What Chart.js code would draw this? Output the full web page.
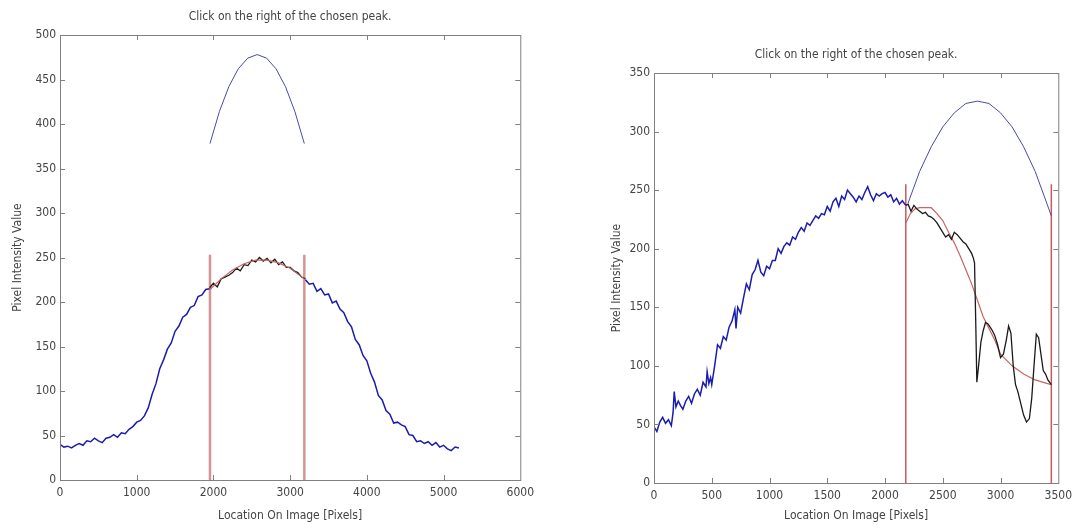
<!DOCTYPE html>
<html lang="en">
<head>
  <meta charset="UTF-8" />
  <title>Click on the right of the chosen peak.</title>
  <script src="https://cdn.jsdelivr.net/npm/chart.js"></script>
  <style>
    body {
      margin: 0;
      background: #fff;
      width: 1078px;
      height: 531px;
      position: relative;
      overflow: hidden;
    }
    canvas {
      position: absolute;
      top: 0;
    }
    #graficoIzq { left: 0; }
    #graficoDer { left: 540px; }
  </style>
</head>
<body>

<canvas id="graficoIzq" width="540" height="531"></canvas>
<canvas id="graficoDer" width="538" height="531"></canvas>

<script>
  const titulo = 'Click on the right of the chosen peak.';
  const etiquetaX = 'Location On Image [Pixels]';
  const etiquetaY = 'Pixel Intensity Value';

  // ---- left plot ----
  const izqSubidaX = [0,50,100,150,200,250,300,350,400,450,500,550,600,650,700,750,800,850,900,950,1000,1050,1100,1150,1200,1250,1300,1350,1400,1450,1500,1550,1600,1650,1700,1750,1800,1850,1900,1950];
  const izqSubidaY = [40,37,38,36,39,41,39,44,43,47,44,42,47,48,51,48,53,52,57,60,65,67,72,81,96,108,125,135,147,154,167,173,183,186,194,196,206,208,214,215];
  const izqNegroX = [1950,2000,2050,2100,2150,2200,2250,2300,2350,2400,2450,2500,2550,2600,2650,2700,2750,2800,2850,2900,2950,3000,3050,3100,3150,3200];
  const izqNegroY = [216,221,217,226,228,230,233,238,235,242,241,247,245,250,246,249,244,248,242,245,239,239,235,233,228,226];
  const izqBajadaX = [3200,3250,3300,3350,3400,3450,3500,3550,3600,3650,3700,3750,3800,3850,3900,3950,4000,4050,4100,4150,4200,4250,4300,4350,4400,4450,4500,4550,4600,4650,4700,4750,4800,4850,4900,4950,5000,5050,5100,5150,5200];
  const izqBajadaY = [225,220,221,212,215,208,209,199,201,192,188,178,172,158,152,140,134,120,110,95,90,78,74,64,65,62,60,51,50,43,44,41,43,39,42,37,39,35,33,37,36];
  const izqAjusteX = [1955,2100,2250,2400,2550,2700,2850,3000,3185];
  const izqAjusteY = [214,226,236,243,247,247,244,238,226];
  const izqParabolaX = [1955,2078,2201,2324,2447,2570,2693,2816,2939,3062,3185];
  const izqParabolaY = [378,414,442,462,474,478,474,462,442,414,378];
  const izqCortes = [1955, 3185];
  const izqCorteAlto = 253;

  // ---- right plot ----
  const derAzulX = [0,25,50,75,100,125,150,165,175,190,210,230,250,275,300,325,350,375,400,425,450,460,475,490,500,525,550,575,600,625,650,675,700,710,725,750,775,800,825,850,875,900,925,950,975,1000,1025,1050,1075,1100,1125,1150,1175,1200,1225,1250,1275,1300,1325,1350,1375,1400,1425,1450,1475,1500,1525,1550,1575,1600,1625,1650,1675,1700,1725,1750,1775,1800,1825,1850,1875,1900,1925,1950,1975,2000,2025,2050,2075,2100,2125,2150,2180];
  const derAzulY = [48,44,52,56,51,54,49,60,78,65,70,66,63,70,74,68,76,80,75,86,82,95,85,90,84,100,118,115,125,122,133,138,148,132,150,145,158,170,165,178,182,190,180,177,185,183,190,190,200,196,202,205,203,210,208,214,218,215,222,220,224,228,226,230,229,236,232,240,243,236,245,242,250,247,244,240,245,242,248,253,246,241,247,245,247,248,244,246,240,243,238,241,237];
  const derNegroX = [2180,2200,2225,2250,2275,2300,2325,2350,2375,2400,2425,2450,2475,2500,2525,2550,2575,2600,2625,2650,2675,2700,2725,2750,2765,2775,2785,2795,2810,2830,2850,2870,2890,2910,2930,2950,2975,3000,3025,3050,3070,3090,3110,3130,3150,3175,3200,3225,3250,3270,3290,3310,3330,3350,3370,3390,3410,3440];
  const derNegroY = [237,238,232,237,234,232,230,231,228,227,225,222,218,214,210,212,208,214,212,209,206,204,200,196,192,188,140,86,100,120,130,137,136,133,130,126,118,107,110,122,134,128,100,84,78,68,58,52,55,72,100,127,124,110,96,93,88,84];
  const derAjusteX = [2180,2220,2260,2300,2350,2400,2450,2500,2550,2600,2650,2700,2750,2800,2850,2900,2950,3000,3100,3200,3300,3400,3440];
  const derAjusteY = [222,230,234,235,235,235,230,224,214,205,194,182,170,156,142,132,122,110,100,93,88,85,84];
  const derParabolaX = [2200,2300,2400,2500,2600,2700,2800,2900,3000,3100,3200,3300,3400,3440];
  const derParabolaY = [239,266,287,304,316,324,326,324,316,304,287,266,239,228];
  const derCortes = [2180, 3440];
  const derCorteAlto = 255;

  const fuente = "'Liberation Sans Narrow', 'DejaVu Sans Condensed', 'Liberation Sans', sans-serif";
  const grisTexto = '#444';

  const puntos = (xs, ys) => xs.map((x, i) => ({ x: x, y: ys[i] }));

  function linea(xs, ys, color, ancho) {
    return {
      data: puntos(xs, ys),
      borderColor: color,
      borderWidth: ancho,
      showLine: true,
      pointRadius: 0,
      tension: 0
    };
  }

  function cortes(xs, alto, color, ancho) {
    return xs.map(x => linea([x, x], [0, alto], color, ancho));
  }

  // caja estilo MATLAB con marcas hacia dentro + titulo
  const cajaMatlab = {
    id: 'cajaMatlab',
    afterDatasetsDraw(chart, args, opts) {
      const { ctx, chartArea: a, scales: { x, y } } = chart;
      ctx.save();
      ctx.strokeStyle = '#808080';
      ctx.lineWidth = 1;
      ctx.strokeRect(a.left + 0.5, a.top + 0.5, a.right - a.left, a.bottom - a.top);
      ctx.beginPath();
      x.ticks.forEach(t => {
        const px = Math.round(x.getPixelForValue(t.value)) + 0.5;
        if (px <= a.left + 1 || px >= a.right - 1) return;
        ctx.moveTo(px, a.bottom); ctx.lineTo(px, a.bottom - 5);
        ctx.moveTo(px, a.top); ctx.lineTo(px, a.top + 5);
      });
      y.ticks.forEach(t => {
        const py = Math.round(y.getPixelForValue(t.value)) + 0.5;
        if (py <= a.top + 1 || py >= a.bottom - 1) return;
        ctx.moveTo(a.left, py); ctx.lineTo(a.left + 5, py);
        ctx.moveTo(a.right, py); ctx.lineTo(a.right - 5, py);
      });
      ctx.stroke();

      ctx.font = '12px ' + fuente;
      ctx.fillStyle = grisTexto;
      ctx.textAlign = 'center';
      ctx.textBaseline = 'middle';
      ctx.fillText(titulo, (a.left + a.right) / 2, opts.tituloY);
      ctx.restore();
    }
  };

  function opciones(xMax, xPaso, yMax, anchoY, altoX, relleno, tituloY, yTituloPad) {
    return {
      responsive: false,
      animation: false,
      layout: { padding: relleno },
      plugins: {
        legend: { display: false },
        tooltip: { enabled: false },
        cajaMatlab: { tituloY: tituloY }
      },
      scales: {
        x: {
          type: 'linear',
          min: 0,
          max: xMax,
          grid: { display: false, drawTicks: false },
          border: { display: false },
          ticks: { stepSize: xPaso, padding: 6, color: grisTexto, font: { family: fuente, size: 12 }, callback: v => String(v) },
          title: { display: true, text: etiquetaX, color: grisTexto, font: { family: fuente, size: 12 }, padding: { top: 0, bottom: 8 } },
          afterFit(s) { s.height = altoX; }
        },
        y: {
          type: 'linear',
          min: 0,
          max: yMax,
          grid: { display: false, drawTicks: false },
          border: { display: false },
          ticks: { stepSize: 50, padding: 4, color: grisTexto, font: { family: fuente, size: 12 }, callback: v => String(v) },
          title: { display: true, text: etiquetaY, color: grisTexto, font: { family: fuente, size: 12 }, padding: { top: yTituloPad, bottom: 0 } },
          afterFit(s) { s.width = anchoY; }
        }
      }
    };
  }

  // Grafico izquierdo
  new Chart(document.getElementById('graficoIzq').getContext('2d'), {
    type: 'scatter',
    data: {
      datasets: [
        linea(izqAjusteX, izqAjusteY, '#c86464', 1.2),
        linea(izqSubidaX, izqSubidaY, '#1c1cb0', 1.5),
        linea(izqBajadaX, izqBajadaY, '#1c1cb0', 1.5),
        linea(izqNegroX, izqNegroY, '#1a1a1a', 1.3),
        linea(izqParabolaX, izqParabolaY, '#4a4aa8', 1),
        ...cortes(izqCortes, izqCorteAlto, '#d49494', 2.5)
      ]
    },
    options: opciones(6000, 1000, 500, 60, 51, { top: 35, right: 10, left: 0, bottom: 0 }, 17, 11),
    plugins: [cajaMatlab]
  });

  // Grafico derecho
  new Chart(document.getElementById('graficoDer').getContext('2d'), {
    type: 'scatter',
    data: {
      datasets: [
        linea(derAzulX, derAzulY, '#1c1cb0', 1.5),
        linea(derNegroX, derNegroY, '#1a1a1a', 1.3),
        linea(derAjusteX, derAjusteY, '#c86464', 1.2),
        linea(derParabolaX, derParabolaY, '#4a4aa8', 1),
        ...cortes(derCortes, derCorteAlto, '#c85a5a', 1.5)
      ]
    },
    options: opciones(3500, 500, 350, 114, 48, { top: 73, right: 13, left: 0, bottom: 0 }, 55, 70),
    plugins: [cajaMatlab]
  });
</script>

</body>
</html>
